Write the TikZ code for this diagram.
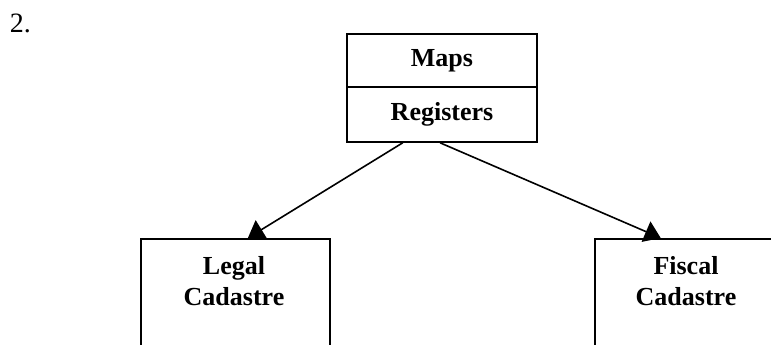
\documentclass[tikz,border=0pt]{standalone}
\usepackage{fontspec}
\setmainfont{Liberation Serif}
\usetikzlibrary{arrows.meta,calc}
\begin{document}
\begin{tikzpicture}[x=1pt,y=-1pt,line width=1.6pt,
  boxtext/.style={font=\fontsize{26}{31}\selectfont\bfseries},
  topbox/.style={draw,minimum width=190pt,inner sep=0pt,boxtext},
  lowbox/.style={draw,minimum width=189pt,minimum height=150pt,inner sep=0pt,anchor=north west},
  conn/.style={-{Triangle[width=22pt,length=16pt]}}]
\useasboundingbox (0,0) rectangle (771,345);
\clip (0,0) rectangle (771,345);
\node[anchor=base west,inner sep=0pt,font=\fontsize{28}{30}\selectfont] (num) at (9,33) {2.};
\node[topbox,minimum height=53pt] (maps) at (442,60.5) {Maps};
\node[topbox,minimum height=55pt] (reg) at (442,114.5) {Registers};
\node[lowbox] (legal) at (140,238) {};
\node[lowbox] (fiscal) at (594,238) {};
\node[boxtext,align=center,inner sep=0pt] (legaltxt) at (234,281) {Legal\\Cadastre};
\node[boxtext,align=center,inner sep=0pt] (fiscaltxt) at (686,281) {Fiscal\\Cadastre};
\draw[conn] ($(reg.south west)!0.295!(reg.south east)$) -- ($(legal.north west)!0.566!(legal.north east)$);
\draw[conn] ($(reg.south west)!0.49!(reg.south east)$) -- ($(fiscal.north west)!0.35!(fiscal.north east)$);
\end{tikzpicture}
\end{document}
